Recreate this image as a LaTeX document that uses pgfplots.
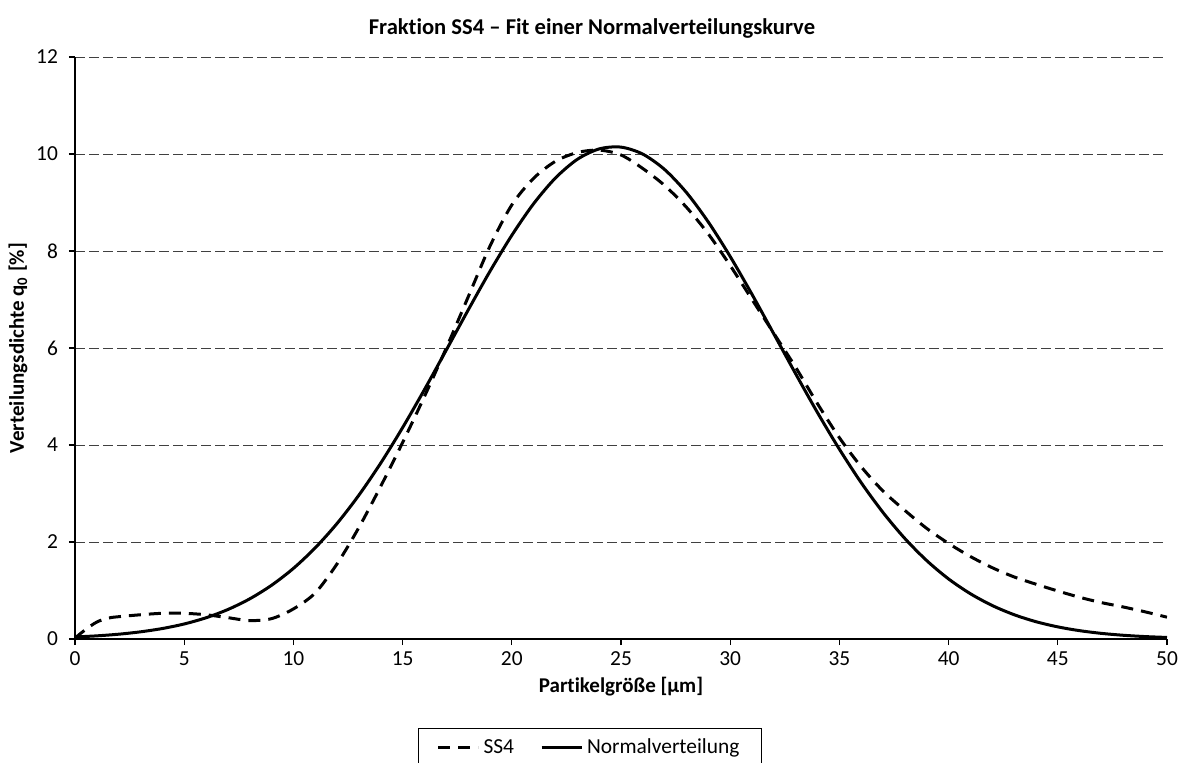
\documentclass[border=0pt]{standalone}
\usepackage{pgfplots}
\pgfplotsset{compat=1.18}
\usepackage{fontspec}
\setmainfont{Carlito}[RawFeature=-liga]
\pgfplotstableread{
x y
0 0.02
0.5 0.2
1 0.35
1.5 0.43
2 0.46
3 0.5
4 0.53
5 0.53
6 0.5
7 0.44
8 0.38
9 0.42
10 0.62
11 0.95
12 1.55
13 2.3
14 3.15
15 4.05
16 5.0
17 6.0
18 7.05
19 8.1
20 8.95
21 9.5
22 9.85
23 10.03
24 10.08
25 9.98
26 9.7
27 9.35
28 8.9
29 8.35
30 7.7
31 7.0
32 6.3
33 5.6
34 4.85
35 4.15
36 3.55
37 3.05
38 2.65
39 2.28
40 1.97
41 1.7
42 1.47
43 1.28
44 1.13
45 0.99
46 0.86
47 0.75
48 0.66
49 0.56
50 0.45
}\ssvier
\pgfplotstableread{
x y
0 0.042
1 0.065
2 0.099
3 0.148
4 0.216
5 0.310
6 0.438
7 0.608
8 0.828
9 1.108
10 1.456
11 1.880
12 2.383
13 2.967
14 3.628
15 4.358
16 5.142
17 5.958
18 6.781
19 7.581
20 8.323
21 8.976
22 9.506
23 9.890
24 10.105
25 10.142
26 9.997
27 9.679
28 9.204
29 8.596
30 7.886
31 7.105
32 6.288
33 5.466
34 4.666
35 3.913
36 3.222
37 2.607
38 2.071
39 1.616
40 1.238
41 0.933
42 0.690
43 0.501
44 0.357
45 0.250
46 0.172
47 0.116
48 0.077
49 0.050
50 0.032
}\normalv
\begin{document}
\begin{tikzpicture}
\useasboundingbox (0,0) rectangle (592pt,381pt);
\begin{axis}[
  at={(37.5pt,61.5pt)}, anchor=south west,
  scale only axis, width=546pt, height=291pt,
  xmin=0, xmax=50, ymin=0, ymax=12,
  xtick={0,5,...,50}, ytick={0,2,...,12},
  axis x line*=bottom, axis y line*=left,
  axis line style={black, line width=0.6pt},
  tick align=outside, major tick length=3pt,
  tick style={black, line width=0.6pt},
  ymajorgrids,
  grid style={black!75, line width=0.5pt, dash pattern=on 5pt off 2pt},
  /pgf/number format/assume math mode=true,
  tick label style={font=\fontsize{10.7}{12}\selectfont},
  yticklabel style={xshift=-2pt},
  title={\bfseries Fraktion SS4 – Fit einer Normalverteilungskurve},
  title style={at={(axis description cs:0.4734,1.0292)}, anchor=center, font=\fontsize{11.3}{13}\selectfont},
  xlabel={\bfseries Partikelgröße [µm]},
  every axis x label/.style={at={(axis description cs:0.5,-0.0825)}, anchor=center, font=\fontsize{10.5}{12}\selectfont},
  ylabel={\bfseries Verteilungsdichte q\textsubscript{0} [\%]},
  every axis y label/.style={at={(axis description cs:-0.0522,0.5)}, rotate=90, anchor=center, font=\fontsize{10.5}{12}\selectfont},
  legend columns=2,
  legend style={at={(axis description cs:0.4716,-0.153)}, anchor=north, draw=black, line width=0.6pt,
    font=\fontsize{10.7}{12}\selectfont, inner xsep=9pt, inner ysep=3pt,
    /tikz/every even column/.append style={column sep=11pt}},
  legend image code/.code={\draw[#1] (0pt,0pt) -- (20pt,0pt);},
]
\addplot[black, line width=1.5pt, dash pattern=on 6pt off 4pt, smooth] table[x=x,y=y] {\ssvier};
\addlegendentry{SS4}
\addplot[black, line width=1.5pt, smooth] table[x=x,y=y] {\normalv};
\addlegendentry{Normalverteilung}
\end{axis}
\end{tikzpicture}
\end{document}
